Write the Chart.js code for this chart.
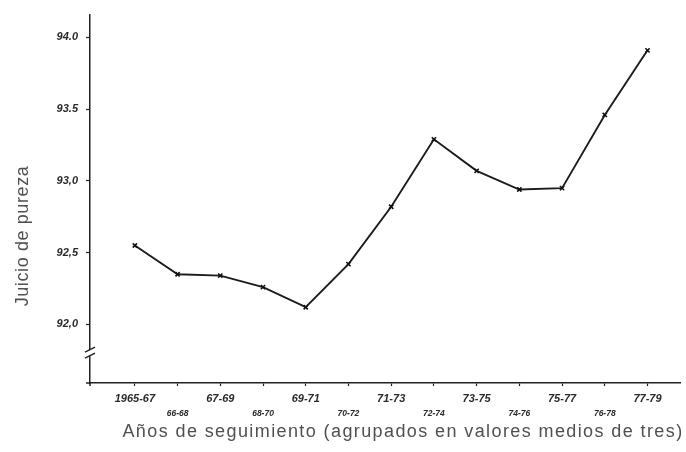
<!DOCTYPE html>
<html>
<head>
<meta charset="utf-8">
<script src="https://cdn.jsdelivr.net/npm/chart.js@4.4.0/dist/chart.umd.min.js"></script>
<style>
  html, body { margin: 0; padding: 0; background: #fff; }
  #wrap { width: 686px; height: 452px; position: relative; }
</style>
</head>
<body>
<div id="wrap"><canvas id="myChart" width="686" height="452"></canvas></div>
<script>
const periods = ['1965-67', '66-68', '67-69', '68-70', '69-71', '70-72', '71-73',
                 '72-74', '73-75', '74-76', '75-77', '76-78', '77-79'];
const pureza = [92.55, 92.35, 92.34, 92.26, 92.12, 92.42, 92.82,
                93.29, 93.07, 92.94, 92.95, 93.46, 93.91];
const yTicks = [92.0, 92.5, 93.0, 93.5, 94.0];
const yTickLabels = ['92,0', '92,5', '93,0', '93.5', '94.0'];

const xTitle = 'Años de seguimiento (agrupados en valores medios de tres)';
const yTitle = 'Juicio de pureza';

// titles and the axis break, drawn after the chart
const extras = {
    id: 'extras',
    afterDraw(chart) {
        const ctx = chart.ctx;
        const area = chart.chartArea;
        const y = chart.scales.y;

        // axis break "//" on the y axis
        const by = y.getPixelForValue(91.8);
        ctx.save();
        ctx.fillStyle = '#fff';
        ctx.fillRect(area.left - 3, by - 3, 6, 6);
        ctx.strokeStyle = '#222';
        ctx.lineWidth = 1.4;
        ctx.beginPath();
        ctx.moveTo(area.left - 5, by - 1);
        ctx.lineTo(area.left + 5, by - 6);
        ctx.moveTo(area.left - 5, by + 5);
        ctx.lineTo(area.left + 5, by);
        ctx.stroke();

        // small overhang of the axes
        ctx.lineWidth = 1.5;
        ctx.beginPath();
        ctx.moveTo(area.left - 4, area.bottom);
        ctx.lineTo(area.left, area.bottom);
        ctx.moveTo(area.left, area.bottom);
        ctx.lineTo(area.left, area.bottom + 3);
        ctx.stroke();

        // axis titles
        ctx.fillStyle = '#505050';
        ctx.font = '18px "Liberation Sans", Arial, sans-serif';
        ctx.textAlign = 'center';
        ctx.textBaseline = 'middle';
        ctx.letterSpacing = '1.4px';
        ctx.fillText(xTitle, 403, 432);

        ctx.letterSpacing = '0.6px';
        ctx.translate(23, 236);
        ctx.rotate(-Math.PI / 2);
        ctx.fillText(yTitle, 0, 0);
        ctx.restore();
    }
};

const myChart = new Chart(document.getElementById('myChart'), {
    type: 'line',
    data: {
        datasets: [{
            data: pureza.map((v, i) => ({ x: i, y: v })),
            borderColor: '#1c1c1c',
            borderWidth: 1.9,
            tension: 0,
            pointStyle: 'crossRot',
            pointRadius: 3,
            pointBorderWidth: 1.6,
            pointBorderColor: '#111',
            fill: false
        }]
    },
    options: {
        responsive: false,
        animation: false,
        layout: { padding: { top: 12, right: 3, left: 0, bottom: 0 } },
        plugins: {
            legend: { display: false },
            tooltip: { enabled: false }
        },
        scales: {
            x: {
                type: 'linear',
                min: -1.05,
                max: 12.77,
                afterBuildTicks: (scale) => {
                    scale.ticks = periods.map((p, i) => ({ value: i }));
                },
                afterFit: (scale) => { scale.height = 69; },
                border: { color: '#222', width: 1.5 },
                grid: {
                    drawOnChartArea: false,
                    color: '#222',
                    tickLength: 3,
                    tickWidth: 1.2
                },
                ticks: {
                    autoSkip: false,
                    maxRotation: 0,
                    padding: 5,
                    color: '#2a2a2a',
                    callback: (value, index) => index % 2 ? ['', periods[index]] : periods[index],
                    font: (c) => ({
                        family: '"Liberation Sans", Arial, sans-serif',
                        style: 'italic',
                        weight: 'bold',
                        size: c.index % 2 ? 8.5 : 11,
                        lineHeight: '15px'
                    })
                }
            },
            y: {
                min: 91.592,
                max: 94.159,
                afterBuildTicks: (scale) => {
                    scale.ticks = yTicks.map(v => ({ value: v }));
                },
                afterFit: (scale) => { scale.width = 90; },
                border: { color: '#222', width: 1.5 },
                grid: {
                    drawOnChartArea: false,
                    color: '#222',
                    tickLength: 4,
                    tickWidth: 1.2
                },
                ticks: {
                    padding: 8,
                    color: '#2a2a2a',
                    font: {
                        family: '"Liberation Sans", Arial, sans-serif',
                        style: 'italic',
                        weight: 'bold',
                        size: 11
                    },
                    callback: (value) => yTickLabels[yTicks.indexOf(value)]
                }
            }
        }
    },
    plugins: [extras]
});
</script>
</body>
</html>
